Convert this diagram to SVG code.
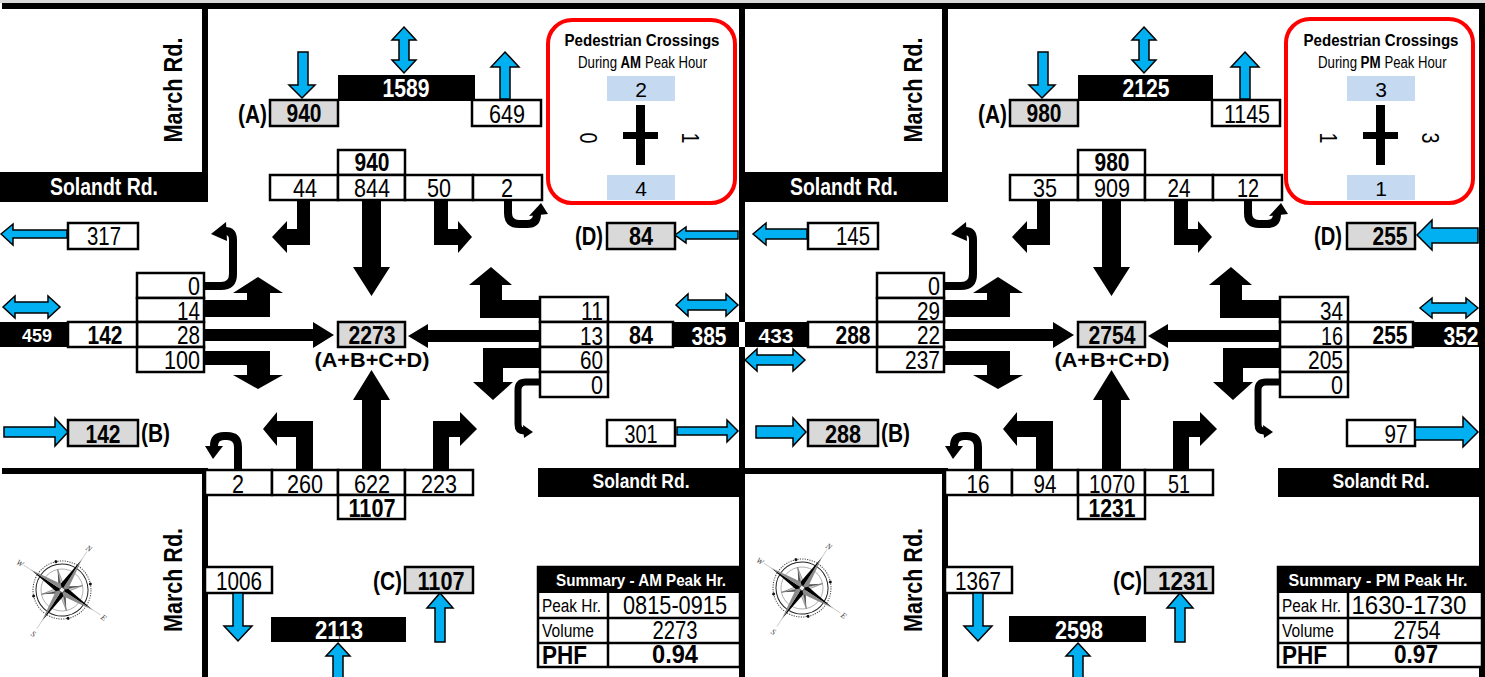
<svg xmlns="http://www.w3.org/2000/svg" width="1485" height="677" viewBox="0 0 1485 677">
<style>
text{font-family:"Liberation Sans",Arial,sans-serif;fill:#000}
.n{font-size:26px}
.bn{font-size:25px;font-weight:bold}
.m{text-anchor:middle}
.e{text-anchor:end}
.w{fill:#fff}
.rd{font-size:23px;font-weight:bold;fill:#fff}
.mr{font-size:26px;font-weight:bold}
.wb{fill:#fff;stroke:#000;stroke-width:2.5}
.gb{fill:#d9d9d9;stroke:#000;stroke-width:2.5}
.lb{fill:#c5d9f1}
.bl{fill:#00b0f0;stroke:#000;stroke-width:1.5}
.ut{fill:none;stroke:#000;stroke-width:8}
.ped{fill:#fff;stroke:#ff0000;stroke-width:4}
.pn{font-size:21px}
.pr{font-size:24px}
.ps{font-size:16px}
.sm{font-size:18px}
.hd{font-size:17px;font-weight:bold;fill:#fff}
.ln{fill:none;stroke:#000;stroke-width:2.5}
.cl{font-family:"Liberation Serif",serif;font-size:8px;font-style:italic;fill:#444;text-anchor:middle}
</style>
<defs>
<g id="compass">
<circle r="29" fill="none" stroke="#444" stroke-width="1" stroke-dasharray="1.2 1.2"/>
<circle r="26" fill="none" stroke="#222" stroke-width="1"/>
<circle r="21" fill="none" stroke="#888" stroke-width="0.6"/>
<g fill="#111"><circle cx="20.5" cy="-20.5" r="1.5"/><circle cx="20.5" cy="20.5" r="1.5"/><circle cx="-20.5" cy="20.5" r="1.5"/><circle cx="-20.5" cy="-20.5" r="1.5"/></g>
<g stroke="#bbb" stroke-width="0.7"><line x1="0" y1="-36" x2="0" y2="-46"/><line x1="36" y1="0" x2="46" y2="0"/><line x1="0" y1="36" x2="0" y2="46"/><line x1="-36" y1="0" x2="-46" y2="0"/></g>
<g id="ipt"><polygon points="0,-21 -3,-3 0,0" fill="#555"/><polygon points="0,-21 3,-3 0,0" fill="#ddd" stroke="#555" stroke-width="0.5"/></g>
<use href="#ipt" transform="rotate(45)"/><use href="#ipt" transform="rotate(135)"/><use href="#ipt" transform="rotate(225)"/><use href="#ipt" transform="rotate(315)"/>
<g id="mpt"><polygon points="0,-37 -4.5,-4.5 0,0" fill="#000"/><polygon points="0,-37 4.5,-4.5 0,0" fill="#8a8a8a"/></g>
<use href="#mpt" transform="rotate(90)"/><use href="#mpt" transform="rotate(180)"/><use href="#mpt" transform="rotate(270)"/>
<circle r="2.5" fill="#eee" stroke="#333" stroke-width="0.8"/>
<text class="cl" x="0" y="-47">N</text>
<text class="cl" x="50" y="3">E</text>
<text class="cl" x="0" y="55">S</text>
<text class="cl" x="-50" y="3">W</text>
</g>
<g id="moves">
<path d="M362,200 H381 V267 H390 L371.5,296 L353,267 H362 Z"/>
<path d="M362,470 H381 V400 H390 L371.5,370 L353,400 H362 Z"/>
<path d="M204,329 H313 V322 L334,335 L313,348 V341 H204 Z"/>
<path d="M540,330 H428 V324 L408,336 L428,348 V342 H540 Z"/>
<path d="M310,200 H297 V229 H287 V221 L272,237 L287,253 V245 H310 Z"/>
<path d="M434,200 H448 V229 H458 V221 L472,237 L458,253 V245 H434 Z"/>
<path d="M296,470 H313 V421 H277 V412 L263,429 L277,446 V437 H296 Z"/>
<path d="M449,470 H433 V421 H460 V412 L477,429 L460,446 V437 H449 Z"/>
<path d="M204,317 H270 V293 H283 L258,277 L233,293 H247 V300 H204 Z"/>
<path d="M204,351 H270 V375 H283 L258,389 L233,375 H247 V365 H204 Z"/>
<path d="M540,300 H502 V285 H512 L491,267 L469,285 H480 V318 H540 Z"/>
<path d="M540,348 H483 V382 H473 L493,400 L513,382 H503 V368 H540 Z"/>
<path class="ut" d="M204,286 H221 Q233,286 233,274 V240 Q233,231 225,231"/>
<polygon points="226,222 227,241 211,234"/>
<path class="ut" d="M508,200 V213 Q508,224 519,224 H527 Q537,224 537,214 V213"/>
<polygon points="529,216 548,214 541,203"/>
<path class="ut" style="stroke-width:7" d="M540,382 H526 Q518,382 518,390 V424 Q518,431 524,431"/>
<polygon points="523,425 524,438 533,432"/>
<path class="ut" d="M238,470 V447 Q238,436 227,436 H224 Q214,436 214,446 V447"/>
<polygon points="205,446 223,446 213,459"/>
</g>
<g id="blue-common">
<path class="bl" d="M298,52 H308 V85 H315 L302,98 L289,85 H298 Z"/>
<path class="bl" d="M404,27 L416,40 H409 V60 H416 L404,73 L392,60 H399 V40 H392 Z"/>
<path class="bl" d="M505,52 L519,67 H510 V99 H500 V67 H491 Z"/>
<path class="bl" d="M233,593 H243 V626 H252 L238,641 L224,626 H233 Z"/>
<path class="bl" d="M338,643 L350,656 H343 V690 H333 V656 H326 Z"/>
<path class="bl" d="M440,593 L453,608 H445 V642 H435 V608 H427 Z"/>
</g>
<g id="frame">
<rect x="202" y="9" width="6" height="193"/>
<rect x="0" y="172" width="208" height="30"/>
<rect x="2" y="468" width="206" height="6"/>
<rect x="202" y="468" width="6" height="209"/>
<rect x="538" y="468" width="202" height="29"/>
<rect x="739" y="3" width="6" height="319"/>
<rect x="739" y="347" width="6" height="330"/>
<text class="rd m" x="104" y="195" textLength="108" lengthAdjust="spacingAndGlyphs">Solandt Rd.</text>
<text class="rd m" x="641" y="488" style="font-size:20px" textLength="97" lengthAdjust="spacingAndGlyphs">Solandt Rd.</text>
<text class="mr m" transform="translate(182,90) rotate(-90)" textLength="105" lengthAdjust="spacingAndGlyphs">March Rd.</text>
<text class="mr m" transform="translate(182,580) rotate(-90)" textLength="104" lengthAdjust="spacingAndGlyphs">March Rd.</text>
</g>
</defs>
<rect width="1485" height="677" fill="#fff"/>
<rect x="0" y="0" width="1485" height="3" fill="#d9d9d9"/>
<rect x="2" y="3" width="1482" height="6"/>

<g id="am">
<use href="#frame"/>
<use href="#compass" transform="translate(62,590) rotate(33)"/>
<g id="am-a"><text class="bn e" x="267" y="123" textLength="29" lengthAdjust="spacingAndGlyphs">(A)</text><rect class="gb" x="270" y="100" width="68" height="26"/><text class="bn m" x="304" y="122" textLength="35" lengthAdjust="spacingAndGlyphs">940</text></g>
<g id="am-north-two-way"><rect x="338" y="75" width="137" height="26"/><text class="bn m w" x="406" y="97" textLength="47" lengthAdjust="spacingAndGlyphs">1589</text></g>
<g id="am-north-exit"><rect class="wb" x="472" y="100" width="69" height="26"/><text class="n m" x="507" y="123" textLength="36" lengthAdjust="spacingAndGlyphs">649</text></g>
<g id="am-north-total"><rect class="wb" x="338" y="150" width="67" height="25"/><text class="bn m" x="372" y="171" textLength="35" lengthAdjust="spacingAndGlyphs">940</text></g>
<g id="am-north-lanes">
<rect class="wb" x="270" y="175" width="68" height="25"/><rect class="wb" x="338" y="175" width="67" height="25"/><rect class="wb" x="405" y="175" width="68" height="25"/><rect class="wb" x="473" y="175" width="69" height="25"/>
<text class="n m" x="305" y="197" textLength="24" lengthAdjust="spacingAndGlyphs">44</text><text class="n m" x="372" y="197" textLength="36" lengthAdjust="spacingAndGlyphs">844</text><text class="n m" x="439" y="197" textLength="24" lengthAdjust="spacingAndGlyphs">50</text><text class="n m" x="507" y="197" textLength="12" lengthAdjust="spacingAndGlyphs">2</text>
</g>
<g id="am-ped">
<rect class="ped" x="548" y="20" width="187" height="183" rx="24"/>
<text class="m" x="642" y="46" style="font-size:17px;font-weight:bold" textLength="155" lengthAdjust="spacingAndGlyphs">Pedestrian Crossings</text>
<text class="ps" x="578" y="68" textLength="39" lengthAdjust="spacingAndGlyphs">During</text>
<text class="ps" x="620.5" y="68" font-weight="bold" textLength="20.5" lengthAdjust="spacingAndGlyphs">AM</text>
<text class="ps" x="645" y="68" textLength="62" lengthAdjust="spacingAndGlyphs">Peak Hour</text>
<rect class="lb" x="607" y="76" width="68" height="25"/><text class="pn m" x="641" y="97">2</text>
<rect class="lb" x="607" y="175" width="68" height="25"/><text class="pn m" x="641" y="196">4</text>
<rect x="636" y="105" width="9" height="60"/><rect x="623" y="132" width="35" height="7"/>
<text class="pr m" transform="translate(580,138) rotate(90)" textLength="11" lengthAdjust="spacingAndGlyphs">0</text>
<text class="pr m" transform="translate(682,138) rotate(90)" textLength="11" lengthAdjust="spacingAndGlyphs">1</text>
</g>
<g id="am-d"><text class="bn e" x="603" y="245" textLength="28" lengthAdjust="spacingAndGlyphs">(D)</text><rect class="gb" x="607" y="223" width="68" height="26"/><text class="bn m" x="641" y="245" textLength="24" lengthAdjust="spacingAndGlyphs">84</text></g>
<g id="am-west-exit"><rect class="wb" x="68" y="223" width="70" height="26"/><text class="n m" x="104" y="245" textLength="34" lengthAdjust="spacingAndGlyphs">317</text></g>
<g id="am-west-lanes">
<rect class="wb" x="137" y="273" width="67" height="25"/><rect class="wb" x="137" y="298" width="67" height="24"/><rect class="wb" x="137" y="322" width="67" height="25"/><rect class="wb" x="137" y="347" width="67" height="25"/>
<text class="n e" x="200" y="295" textLength="12" lengthAdjust="spacingAndGlyphs">0</text><text class="n e" x="200" y="320" textLength="23" lengthAdjust="spacingAndGlyphs">14</text><text class="n e" x="200" y="344" textLength="23" lengthAdjust="spacingAndGlyphs">28</text><text class="n e" x="200" y="369" textLength="36" lengthAdjust="spacingAndGlyphs">100</text>
</g>
<g id="am-west-road"><rect x="0" y="322" width="68" height="25"/><rect class="wb" x="68" y="322" width="69" height="25"/><text class="m w" x="37" y="342" style="font-size:18px;font-weight:bold" textLength="30" lengthAdjust="spacingAndGlyphs">459</text><text class="bn m" x="105" y="344" textLength="35" lengthAdjust="spacingAndGlyphs">142</text></g>
<g id="am-b"><rect class="gb" x="68" y="420" width="70" height="26"/><text class="bn m" x="103" y="443" textLength="35" lengthAdjust="spacingAndGlyphs">142</text><text class="bn" x="141" y="442" textLength="29" lengthAdjust="spacingAndGlyphs">(B)</text></g>
<g id="am-east-lanes">
<rect class="wb" x="540" y="297" width="68" height="25"/><rect class="wb" x="540" y="322" width="68" height="25"/><rect class="wb" x="540" y="347" width="68" height="25"/><rect class="wb" x="540" y="372" width="68" height="25"/>
<text class="n e" x="603" y="320" textLength="22" lengthAdjust="spacingAndGlyphs">11</text><text class="n e" x="603" y="345" textLength="23" lengthAdjust="spacingAndGlyphs">13</text><text class="n e" x="603" y="369" textLength="23" lengthAdjust="spacingAndGlyphs">60</text><text class="n e" x="603" y="394" textLength="12" lengthAdjust="spacingAndGlyphs">0</text>
</g>
<g id="am-east-road"><rect class="wb" x="608" y="322" width="65" height="25"/><rect x="673" y="322" width="66" height="25"/><text class="bn m" x="641" y="344" textLength="24" lengthAdjust="spacingAndGlyphs">84</text><text class="bn m w" x="709" y="345" textLength="35" lengthAdjust="spacingAndGlyphs">385</text></g>
<g id="am-east-exit"><rect class="wb" x="607" y="420" width="68" height="26"/><text class="n m" x="641" y="443" textLength="33" lengthAdjust="spacingAndGlyphs">301</text></g>
<g id="am-total"><rect class="gb" x="338" y="322" width="67" height="25"/><text class="bn m" x="372" y="344" textLength="47" lengthAdjust="spacingAndGlyphs">2273</text><text class="m" x="372" y="367" style="font-size:21px;font-weight:bold" textLength="115" lengthAdjust="spacingAndGlyphs">(A+B+C+D)</text></g>
<g id="am-south-lanes">
<rect class="wb" x="205" y="470" width="67" height="25"/><rect class="wb" x="272" y="470" width="66" height="25"/><rect class="wb" x="338" y="470" width="67" height="25"/><rect class="wb" x="405" y="470" width="68" height="25"/>
<text class="n m" x="238" y="493" textLength="12" lengthAdjust="spacingAndGlyphs">2</text><text class="n m" x="305" y="493" textLength="36" lengthAdjust="spacingAndGlyphs">260</text><text class="n m" x="372" y="493" textLength="36" lengthAdjust="spacingAndGlyphs">622</text><text class="n m" x="439" y="493" textLength="36" lengthAdjust="spacingAndGlyphs">223</text>
</g>
<g id="am-south-total"><rect class="wb" x="338" y="495" width="67" height="24"/><text class="bn m" x="372" y="517" textLength="47" lengthAdjust="spacingAndGlyphs">1107</text></g>
<g id="am-south-exit"><rect class="wb" x="205" y="567" width="67" height="26"/><text class="n m" x="239" y="590" textLength="46" lengthAdjust="spacingAndGlyphs">1006</text></g>
<g id="am-south-two-way"><rect x="271" y="617" width="135" height="25"/><text class="bn m w" x="339" y="639" textLength="48" lengthAdjust="spacingAndGlyphs">2113</text></g>
<g id="am-c"><text class="bn e" x="402" y="590" textLength="29" lengthAdjust="spacingAndGlyphs">(C)</text><rect class="gb" x="405" y="567" width="68" height="26"/><text class="bn m" x="441" y="590" textLength="47" lengthAdjust="spacingAndGlyphs">1107</text></g>
<g id="am-summary">
<rect class="wb" x="538" y="567" width="202" height="100"/><rect x="538" y="567" width="202" height="26"/>
<path class="ln" d="M538,618 H740 M538,643 H740 M608,593 V667"/>
<text class="hd m" x="641" y="586" textLength="170" lengthAdjust="spacingAndGlyphs">Summary - AM Peak Hr.</text>
<text class="sm" x="542" y="612" textLength="59" lengthAdjust="spacingAndGlyphs">Peak Hr.</text><text class="n m" x="675" y="614" textLength="104" lengthAdjust="spacingAndGlyphs">0815-0915</text>
<text class="sm" x="542" y="637" textLength="52" lengthAdjust="spacingAndGlyphs">Volume</text><text class="n m" x="675" y="639" textLength="45" lengthAdjust="spacingAndGlyphs">2273</text>
<text x="542" y="664" style="font-size:25px;font-weight:bold" textLength="45" lengthAdjust="spacingAndGlyphs">PHF</text><text class="m" x="675" y="663" style="font-size:25px;font-weight:bold" textLength="46" lengthAdjust="spacingAndGlyphs">0.94</text>
</g>
</g>

<g id="pm" transform="translate(740,0)">
<use href="#frame"/>
<use href="#compass" transform="translate(62,588) rotate(33)"/>
<g id="pm-a"><text class="bn e" x="267" y="123" textLength="29" lengthAdjust="spacingAndGlyphs">(A)</text><rect class="gb" x="270" y="100" width="68" height="26"/><text class="bn m" x="304" y="122" textLength="35" lengthAdjust="spacingAndGlyphs">980</text></g>
<g id="pm-north-two-way"><rect x="338" y="75" width="135" height="26"/><text class="bn m w" x="406" y="97" textLength="47" lengthAdjust="spacingAndGlyphs">2125</text></g>
<g id="pm-north-exit"><rect class="wb" x="472" y="100" width="68" height="26"/><text class="n m" x="507" y="123" textLength="46" lengthAdjust="spacingAndGlyphs">1145</text></g>
<g id="pm-north-total"><rect class="wb" x="338" y="150" width="67" height="25"/><text class="bn m" x="372" y="171" textLength="35" lengthAdjust="spacingAndGlyphs">980</text></g>
<g id="pm-north-lanes">
<rect class="wb" x="270" y="175" width="68" height="25"/><rect class="wb" x="338" y="175" width="67" height="25"/><rect class="wb" x="405" y="175" width="68" height="25"/><rect class="wb" x="473" y="175" width="69" height="25"/>
<text class="n m" x="305" y="197" textLength="24" lengthAdjust="spacingAndGlyphs">35</text><text class="n m" x="372" y="197" textLength="36" lengthAdjust="spacingAndGlyphs">909</text><text class="n m" x="439" y="197" textLength="23" lengthAdjust="spacingAndGlyphs">24</text><text class="n m" x="508" y="197" textLength="22" lengthAdjust="spacingAndGlyphs">12</text>
</g>
<g id="pm-ped">
<rect class="ped" x="546" y="19" width="187" height="184" rx="24"/>
<text class="m" x="641" y="46" style="font-size:17px;font-weight:bold" textLength="155" lengthAdjust="spacingAndGlyphs">Pedestrian Crossings</text>
<text class="ps" x="578" y="68" textLength="39" lengthAdjust="spacingAndGlyphs">During</text>
<text class="ps" x="620.5" y="68" font-weight="bold" textLength="20" lengthAdjust="spacingAndGlyphs">PM</text>
<text class="ps" x="644.5" y="68" textLength="62" lengthAdjust="spacingAndGlyphs">Peak Hour</text>
<rect class="lb" x="607" y="76" width="68" height="25"/><text class="pn m" x="641" y="97">3</text>
<rect class="lb" x="607" y="175" width="68" height="25"/><text class="pn m" x="641" y="196">1</text>
<rect x="636" y="105" width="9" height="60"/><rect x="623" y="132" width="35" height="7"/>
<text class="pr m" transform="translate(580,138) rotate(90)" textLength="11" lengthAdjust="spacingAndGlyphs">1</text>
<text class="pr m" transform="translate(682,138) rotate(90)" textLength="11" lengthAdjust="spacingAndGlyphs">3</text>
</g>
<g id="pm-d"><text class="bn e" x="602" y="245" textLength="28" lengthAdjust="spacingAndGlyphs">(D)</text><rect class="gb" x="607" y="223" width="68" height="26"/><text class="bn m" x="650" y="245" textLength="35" lengthAdjust="spacingAndGlyphs">255</text></g>
<g id="pm-west-exit"><rect class="wb" x="68" y="223" width="70" height="26"/><text class="n m" x="113" y="245" textLength="34" lengthAdjust="spacingAndGlyphs">145</text></g>
<g id="pm-west-lanes">
<rect class="wb" x="137" y="273" width="67" height="25"/><rect class="wb" x="137" y="298" width="67" height="24"/><rect class="wb" x="137" y="322" width="67" height="25"/><rect class="wb" x="137" y="347" width="67" height="25"/>
<text class="n e" x="200" y="295" textLength="12" lengthAdjust="spacingAndGlyphs">0</text><text class="n e" x="200" y="320" textLength="23" lengthAdjust="spacingAndGlyphs">29</text><text class="n e" x="200" y="344" textLength="23" lengthAdjust="spacingAndGlyphs">22</text><text class="n e" x="200" y="369" textLength="35" lengthAdjust="spacingAndGlyphs">237</text>
</g>
<g id="pm-west-road"><rect x="5" y="322" width="63" height="25"/><rect class="wb" x="68" y="322" width="69" height="25"/><text class="m w" x="36" y="343" style="font-size:21px;font-weight:bold" textLength="35" lengthAdjust="spacingAndGlyphs">433</text><text class="bn m" x="113" y="344" textLength="35" lengthAdjust="spacingAndGlyphs">288</text></g>
<g id="pm-b"><rect class="gb" x="68" y="420" width="70" height="26"/><text class="bn m" x="103" y="443" textLength="36" lengthAdjust="spacingAndGlyphs">288</text><text class="bn" x="141" y="442" textLength="29" lengthAdjust="spacingAndGlyphs">(B)</text></g>
<g id="pm-east-lanes">
<rect class="wb" x="540" y="297" width="68" height="25"/><rect class="wb" x="540" y="322" width="68" height="25"/><rect class="wb" x="540" y="347" width="68" height="25"/><rect class="wb" x="540" y="372" width="68" height="25"/>
<text class="n e" x="603" y="320" textLength="23" lengthAdjust="spacingAndGlyphs">34</text><text class="n e" x="603" y="345" textLength="22" lengthAdjust="spacingAndGlyphs">16</text><text class="n e" x="603" y="369" textLength="35" lengthAdjust="spacingAndGlyphs">205</text><text class="n e" x="603" y="394" textLength="12" lengthAdjust="spacingAndGlyphs">0</text>
</g>
<g id="pm-east-road"><rect class="wb" x="608" y="322" width="65" height="25"/><rect x="673" y="322" width="72" height="25"/><text class="bn m" x="650" y="344" textLength="35" lengthAdjust="spacingAndGlyphs">255</text><text class="bn m w" x="721" y="345" textLength="35" lengthAdjust="spacingAndGlyphs">352</text></g>
<g id="pm-east-exit"><rect class="wb" x="607" y="420" width="68" height="26"/><text class="n m" x="656" y="443" textLength="23" lengthAdjust="spacingAndGlyphs">97</text></g>
<g id="pm-total"><rect class="gb" x="338" y="322" width="67" height="25"/><text class="bn m" x="372" y="344" textLength="47" lengthAdjust="spacingAndGlyphs">2754</text><text class="m" x="372" y="367" style="font-size:21px;font-weight:bold" textLength="115" lengthAdjust="spacingAndGlyphs">(A+B+C+D)</text></g>
<g id="pm-south-lanes">
<rect class="wb" x="205" y="470" width="67" height="25"/><rect class="wb" x="272" y="470" width="66" height="25"/><rect class="wb" x="338" y="470" width="67" height="25"/><rect class="wb" x="405" y="470" width="68" height="25"/>
<text class="n m" x="238" y="493" textLength="23" lengthAdjust="spacingAndGlyphs">16</text><text class="n m" x="305" y="493" textLength="23" lengthAdjust="spacingAndGlyphs">94</text><text class="n m" x="372" y="493" textLength="46" lengthAdjust="spacingAndGlyphs">1070</text><text class="n m" x="439" y="493" textLength="22" lengthAdjust="spacingAndGlyphs">51</text>
</g>
<g id="pm-south-total"><rect class="wb" x="338" y="495" width="67" height="24"/><text class="bn m" x="372" y="517" textLength="47" lengthAdjust="spacingAndGlyphs">1231</text></g>
<g id="pm-south-exit"><rect class="wb" x="205" y="567" width="67" height="26"/><text class="n m" x="238" y="590" textLength="46" lengthAdjust="spacingAndGlyphs">1367</text></g>
<g id="pm-south-two-way"><rect x="269" y="616" width="137" height="26"/><text class="bn m w" x="339" y="639" textLength="48" lengthAdjust="spacingAndGlyphs">2598</text></g>
<g id="pm-c"><text class="bn e" x="402" y="590" textLength="29" lengthAdjust="spacingAndGlyphs">(C)</text><rect class="gb" x="405" y="567" width="68" height="26"/><text class="bn m" x="443" y="590" textLength="50" lengthAdjust="spacingAndGlyphs">1231</text></g>
<g id="pm-summary">
<rect class="wb" x="538" y="567" width="204" height="100"/><rect x="538" y="567" width="204" height="26"/>
<path class="ln" d="M538,618 H742 M538,643 H742 M608,593 V667"/>
<text class="hd m" x="638" y="586" textLength="179" lengthAdjust="spacingAndGlyphs">Summary - PM Peak Hr.</text>
<text class="sm" x="542" y="612" textLength="59" lengthAdjust="spacingAndGlyphs">Peak Hr.</text><text class="n m" x="669" y="614" textLength="115" lengthAdjust="spacingAndGlyphs">1630-1730</text>
<text class="sm" x="542" y="637" textLength="52" lengthAdjust="spacingAndGlyphs">Volume</text><text class="n m" x="677" y="639" textLength="47" lengthAdjust="spacingAndGlyphs">2754</text>
<text x="542" y="664" style="font-size:25px;font-weight:bold" textLength="45" lengthAdjust="spacingAndGlyphs">PHF</text><text class="m" x="676" y="663" style="font-size:25px;font-weight:bold" textLength="44" lengthAdjust="spacingAndGlyphs">0.97</text>
</g>
</g>

<g id="connectors">
<use href="#moves"/>
<use href="#moves" transform="translate(740,0)"/>
<use href="#blue-common"/>
<use href="#blue-common" transform="translate(740,0)"/>
<g id="am-blue">
<path class="bl" d="M1,234 L13,224 V230 H67 V238 H13 V245 Z"/>
<path class="bl" d="M3,307 L15,296 V302 H48 V296 L60,307 L48,318 V313 H15 V318 Z"/>
<path class="bl" d="M4,427 H55 V418 L68,432 L55,446 V437 H4 Z"/>
<path class="bl" d="M675,235 L686,227 V231 H738 V239 H686 V243 Z"/>
<path class="bl" d="M676,305 L688,294 V300 H726 V294 L738,305 L726,316 V310 H688 V316 Z"/>
<path class="bl" d="M677,427 H727 V420 L738,431 L727,442 V435 H677 Z"/>
</g>
<g id="pm-blue" transform="translate(740,0)">
<path class="bl" d="M13,234 L26,223 V229 H67 V239 H26 V245 Z"/>
<path class="bl" d="M5,360 L17,349 V355 H53 V349 L65,360 L53,371 V365 H17 V371 Z"/>
<path class="bl" d="M16,426 H53 V418 L66,432 L53,446 V438 H16 Z"/>
<path class="bl" d="M677,235 L692,220 V228 H738 V243 H692 V250 Z"/>
<path class="bl" d="M680,308 L692,298 V303 H726 V298 L738,308 L726,318 V313 H692 V318 Z"/>
<path class="bl" d="M675,427 H723 V417 L738,432 L723,447 V440 H675 Z"/>
</g>
</g>
</svg>
